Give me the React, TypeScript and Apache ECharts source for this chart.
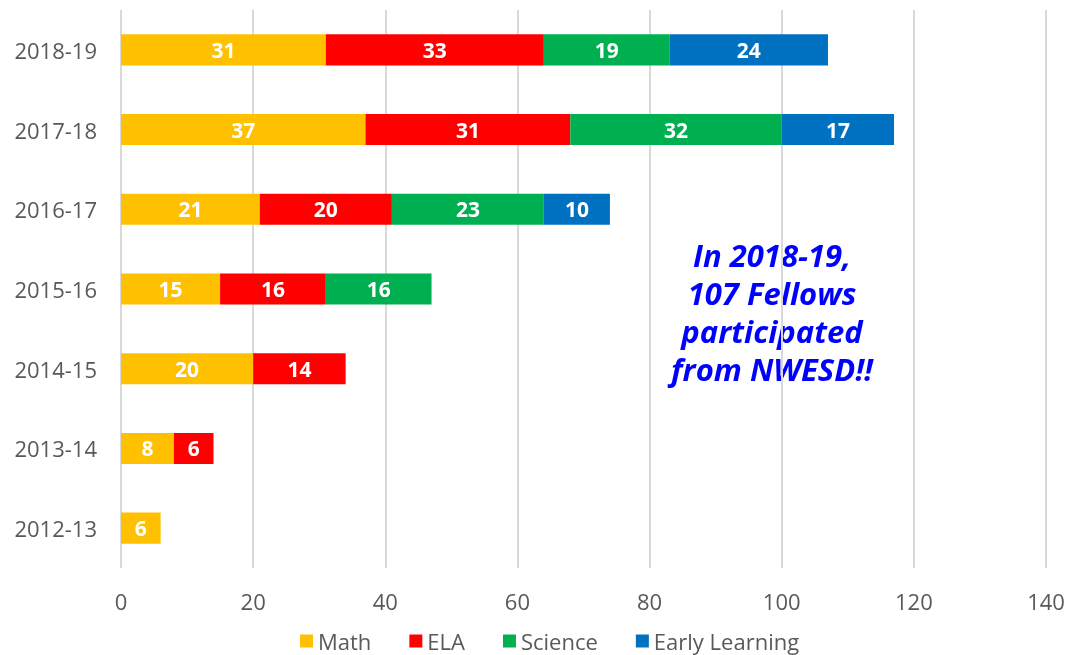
import React, { useEffect, useRef } from "react";
import * as echarts from "echarts";

const categories = ["2018-19", "2017-18", "2016-17", "2015-16", "2014-15", "2013-14", "2012-13"];
const math = [31, 37, 21, 15, 20, 8, 6];
const ela = [33, 31, 20, 16, 14, 6, null];
const science = [19, 32, 23, 16, null, null, null];
const earlyLearning = [24, 17, 10, null, null, null, null];
const xTicks = { min: 0, max: 140, interval: 20 };
const annotation = "In 2018-19,\n107 Fellows\nparticipated\nfrom NWESD!!";

const FONT = "'Open Sans', 'Noto Sans', sans-serif";

export default function App() {
  const ref = useRef<HTMLDivElement>(null);
  useEffect(() => {
    const chart = echarts.init(ref.current!, null, { renderer: "svg" });
    const mk = (name: string, data: (number | null)[], color: string) => ({
      name,
      type: "bar",
      stack: "total",
      data,
      barCategoryGap: "61%",
      itemStyle: { color },
      label: {
        show: true,
        position: "inside",
        color: "#fff",
        fontWeight: "bold",
        fontSize: 21,
        fontFamily: FONT,
      },
    });
    chart.setOption({
      animation: false,
      grid: { left: 121, right: 22, top: 10, bottom: 87, containLabel: false },
      legend: {
        top: 623,
        left: 295,
        itemWidth: 13,
        itemHeight: 13,
        itemGap: 38,
        icon: "rect",
        textStyle: { fontSize: 22, color: "#595959", fontFamily: FONT, lineHeight: 26 },
        data: ["Math", "ELA", "Science", "Early Learning"],
      },
      xAxis: {
        type: "value",
        min: xTicks.min,
        max: xTicks.max,
        interval: xTicks.interval,
        axisLine: { show: false },
        axisTick: { show: false },
        splitLine: { lineStyle: { color: "#d9d9d9", width: 2 } },
        axisLabel: { fontSize: 22, color: "#595959", fontFamily: FONT, margin: 22 },
      },
      yAxis: {
        type: "category",
        inverse: true,
        data: categories,
        axisLine: { show: false },
        axisTick: { show: false },
        axisLabel: { fontSize: 22, color: "#595959", fontFamily: FONT, margin: 24 },
      },
      series: [
        mk("Math", math, "#FFC000"),
        mk("ELA", ela, "#FF0000"),
        mk("Science", science, "#00B050"),
        mk("Early Learning", earlyLearning, "#0070C0"),
      ],
      graphic: [
        {
          type: "text",
          x: 772,
          y: 236,
          style: {
            text: annotation,
            fill: "#0000FF",
            font: `italic bold 31px ${FONT}`,
            align: "center",
            verticalAlign: "top",
            lineHeight: 38,
          },
        },
      ],
    });
    return () => chart.dispose();
  }, []);
  return (
    <div
      ref={ref}
      style={{ position: "fixed", left: 0, top: 0, width: 1068, height: 655 }}
    />
  );
}
